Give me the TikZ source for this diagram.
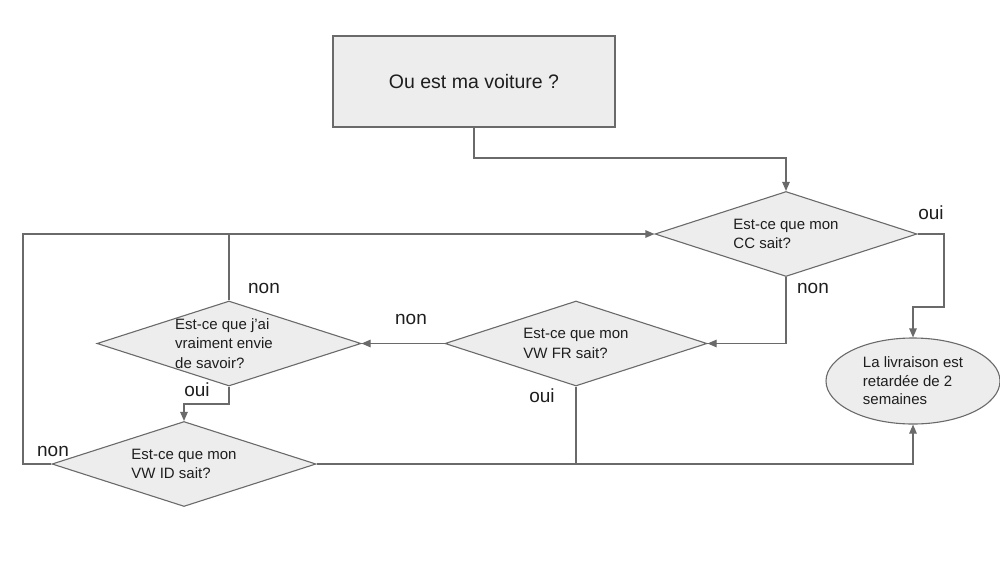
\documentclass[tikz,border=0pt]{standalone}
\usepackage{fontspec}
\setmainfont{Liberation Sans}
\usetikzlibrary{shapes.geometric,arrows.meta}
\definecolor{fillg}{HTML}{EDEDED}
\definecolor{lineg}{HTML}{6A6A6A}
\definecolor{txt}{HTML}{1E1E1E}
\tikzset{
  box/.style={draw=lineg,fill=fillg,line width=1.1pt,minimum width=282pt,minimum height=91pt,inner sep=0pt,text=txt,font=\fontsize{19.5}{23}\selectfont},
  dia/.style={draw=lineg,fill=fillg,line width=1.1pt,diamond,minimum width=#1,minimum height=85pt,inner sep=0pt},
  dtext/.style={align=left,text=txt,inner sep=0pt,font=\fontsize{15}{19.5}\selectfont},
  endnode/.style={draw=lineg,fill=fillg,line width=1.1pt,ellipse,minimum width=174pt,minimum height=86pt,inner sep=0pt,align=left,text=txt,font=\fontsize{15}{18.5}\selectfont},
  conn/.style={draw=lineg,line width=1.1pt},
  arr/.style={conn,-{Triangle[length=9pt,width=7.5pt]}},
  lab/.style={text=txt,inner sep=0pt,font=\fontsize{19}{22}\selectfont}
}
\begin{document}
\begin{tikzpicture}[x=1pt,y=-1pt]
\useasboundingbox (0,0) rectangle (1000,562);
\node[box] (start) at (474,81.5) {Ou est ma voiture ?};
\node[dia=262pt] (cc) at (786,234) {};
\node[dtext] (cct) at (cc) {Est-ce que mon\\CC sait?};
\node[dia=262pt] (fr) at (576,343.5) {};
\node[dtext] (frt) at (fr) {Est-ce que mon\\VW FR sait?};
\node[dia=264pt] (envie) at (229,343.5) {};
\node[dtext] (enviet) at (224,343.5) {Est-ce que j'ai\\vraiment envie\\de savoir?};
\node[dia=264pt] (id) at (184,464) {};
\node[dtext] (idt) at (id) {Est-ce que mon\\VW ID sait?};
\node[endnode] (liv) at (913,381) {La livraison est\\retardée de 2\\semaines};

\coordinate (j1) at (474,158);
\coordinate (j2) at (944,307);
\coordinate (j3) at (229,404);
\coordinate (j4) at (23,234);

\draw[arr] (start.south) -- (j1) -| (cc.north);
\draw[arr] (cc.east) -| (j2) -| (liv.north);
\draw[arr] (cc.south) |- (fr.east);
\draw[arr] (fr.west) -- (envie.east);
\draw[arr] (envie.south) -- (j3) -| (id.north);
\draw[conn] (envie.north) -- (envie.north |- cc.west);
\draw[arr] (id.west) -| (j4) -- (cc.west);
\draw[arr] (id.east) -| (liv.south);
\draw[conn] (fr.south) -- (fr.south |- id.east);

\node[lab] (l1) at (931,213) {oui};
\node[lab] (l2) at (813,288) {non};
\node[lab] (l3) at (411,319) {non};
\node[lab] (l4) at (542,396) {oui};
\node[lab] (l5) at (264,288) {non};
\node[lab] (l6) at (197,390) {oui};
\node[lab] (l7) at (53,451) {non};
\end{tikzpicture}
\end{document}
